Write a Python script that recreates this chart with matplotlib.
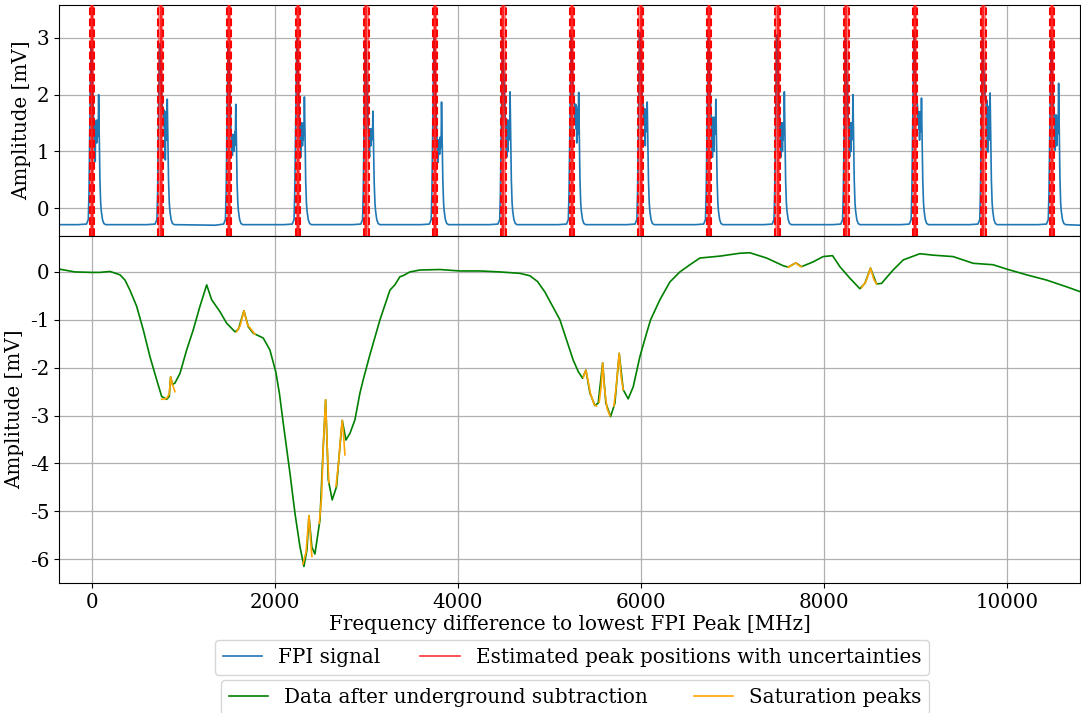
import matplotlib
matplotlib.use("Agg")
import matplotlib.pyplot as plt
from matplotlib.lines import Line2D
import numpy as np

plt.rcParams['font.family'] = 'DejaVu Serif'
plt.rcParams['axes.unicode_minus'] = False
plt.rcParams['font.size'] = 14.3

# --- FPI transmission peaks -------------------------------------------------
fpi_centers = [0, 750, 1499, 2249, 2998, 3748, 4497, 5247, 5996, 6746,
               7495, 8245, 8994, 9744, 10493]
fpi_err = [24, 26, 24, 24, 26, 22, 24, 24, 24, 24, 26, 26, 22, 24, 24]

# sample offsets (MHz) around each FPI peak and the amplitudes read there
fpi_offsets = [-150, -60, -40, -32, -25, -18, -10, 0, 10, 20, 30, 36, 40, 44,
               48, 52, 56, 60, 64, 68, 73, 80, 87, 95, 102, 115, 130, 150]
fpi_rows = [
    [-0.29, -0.28, -0.2, 0.3, 1.2, 2.2, 2.85, 2.6, 2.0, 1.4, 1.0, 0.82, 1.5, 1.2, 1.55, 1.15, 1.5, 1.25, 1.55, 1.3, 2.0, 1.3, 0.5, 0.1, -0.05, -0.2, -0.27, -0.29],
    [-0.29, -0.28, -0.2, 0.3, 1.2, 2.2, 2.9, 2.65, 2.1, 1.8, 1.7, 1.45, 1.73, 1.4, 1.7, 0.85, 1.6, 1.3, 1.5, 1.2, 1.92, 1.25, 0.5, 0.1, -0.05, -0.2, -0.27, -0.29],
    [-0.30, -0.28, -0.2, 0.3, 1.2, 2.2, 2.9, 2.6, 2.0, 1.4, 1.1, 0.93, 1.3, 1.05, 1.29, 1.0, 1.3, 1.1, 1.35, 1.2, 1.83, 1.2, 0.45, 0.1, -0.05, -0.2, -0.27, -0.29],
    [-0.29, -0.28, -0.2, 0.3, 1.2, 2.2, 3.0, 2.7, 2.1, 1.5, 1.1, 0.9, 1.5, 1.2, 1.5, 1.1, 1.45, 1.2, 1.5, 1.3, 1.96, 1.3, 0.5, 0.1, -0.05, -0.2, -0.27, -0.29],
    [-0.29, -0.28, -0.2, 0.3, 1.2, 2.2, 2.95, 2.65, 2.0, 1.5, 1.1, 0.9, 1.4, 1.15, 1.4, 1.1, 1.4, 1.2, 1.4, 1.25, 1.71, 1.1, 0.45, 0.1, -0.05, -0.2, -0.27, -0.29],
    [-0.29, -0.28, -0.2, 0.3, 1.2, 2.2, 3.0, 2.7, 2.0, 1.4, 1.0, 0.81, 1.2, 1.0, 1.2, 0.95, 1.25, 1.05, 1.2, 1.1, 1.87, 1.2, 0.5, 0.1, -0.05, -0.2, -0.27, -0.29],
    [-0.29, -0.28, -0.2, 0.3, 1.2, 2.2, 3.02, 2.7, 2.1, 1.6, 1.2, 0.9, 1.55, 1.25, 1.55, 1.0, 1.5, 1.2, 1.55, 1.3, 2.05, 1.3, 0.5, 0.1, -0.05, -0.2, -0.27, -0.29],
    [-0.29, -0.28, -0.2, 0.3, 1.2, 2.2, 3.05, 2.75, 2.2, 1.9, 1.8, 1.5, 1.83, 1.4, 1.8, 1.15, 1.75, 1.4, 1.7, 1.3, 2.04, 1.3, 0.5, 0.1, -0.05, -0.2, -0.27, -0.29],
    [-0.29, -0.28, -0.2, 0.3, 1.2, 2.2, 3.1, 2.8, 2.2, 1.9, 1.8, 1.5, 1.75, 1.45, 1.75, 1.1, 1.7, 1.4, 1.7, 1.35, 1.87, 1.2, 0.5, 0.1, -0.05, -0.2, -0.27, -0.29],
    [-0.29, -0.28, -0.2, 0.3, 1.2, 2.2, 3.0, 2.7, 2.1, 1.7, 1.4, 0.9, 1.6, 1.3, 1.6, 1.0, 1.55, 1.3, 1.6, 1.3, 1.92, 1.25, 0.5, 0.1, -0.05, -0.2, -0.27, -0.29],
    [-0.29, -0.28, -0.2, 0.3, 1.2, 2.2, 3.05, 2.75, 2.1, 1.6, 1.2, 0.9, 1.5, 1.2, 1.5, 1.0, 1.5, 1.2, 1.5, 1.3, 2.05, 1.3, 0.5, 0.1, -0.05, -0.2, -0.27, -0.29],
    [-0.29, -0.28, -0.2, 0.3, 1.2, 2.2, 3.0, 2.7, 2.1, 1.6, 1.2, 0.9, 1.5, 1.2, 1.5, 1.0, 1.5, 1.2, 1.5, 1.3, 2.0, 1.3, 0.5, 0.1, -0.05, -0.2, -0.27, -0.29],
    [-0.29, -0.28, -0.2, 0.3, 1.2, 2.2, 3.1, 2.8, 2.2, 1.9, 1.8, 1.5, 1.7, 1.4, 1.7, 1.2, 1.65, 1.4, 1.7, 1.35, 1.94, 1.25, 0.5, 0.1, -0.05, -0.2, -0.27, -0.29],
    [-0.29, -0.28, -0.2, 0.3, 1.2, 2.2, 3.0, 2.7, 2.2, 1.9, 1.9, 1.4, 1.9, 1.0, 1.8, 0.99, 1.6, 1.2, 1.5, 1.3, 2.03, 1.3, 0.5, 0.1, -0.05, -0.2, -0.27, -0.29],
    [-0.29, -0.28, -0.2, 0.3, 1.2, 2.2, 3.0, 2.7, 2.1, 1.7, 1.5, 1.02, 1.64, 1.3, 1.64, 1.1, 1.6, 1.3, 1.6, 1.4, 2.2, 1.4, 0.55, 0.1, -0.05, -0.2, -0.27, -0.29],
]
fpi_edges_f = [-360, 10800]
fpi_edges_a = [-0.29, -0.30]

# --- absorption spectrum after background subtraction ----------------------
spec_f = [-361, -186, 0, 87, 197, 306, 361, 415, 489, 561, 634, 707, 762, 816,
          845, 860, 880, 907, 962, 1035, 1107, 1180, 1254, 1308, 1399, 1472,
          1563, 1600, 1661, 1710, 1763, 1872, 1945, 2011, 2050, 2091, 2164,
          2219, 2273, 2317, 2350, 2372, 2404, 2437, 2492, 2528, 2554, 2583,
          2626, 2674, 2710, 2736, 2776, 2820, 2874, 2929, 2965, 3038, 3148,
          3202, 3257, 3311, 3366, 3399, 3475, 3585, 3803, 4022, 4240, 4459,
          4678, 4787, 4870, 4951, 5027, 5115, 5188, 5260, 5315, 5363, 5399,
          5443, 5497, 5533, 5582, 5617, 5669, 5716, 5763, 5807, 5861, 5916,
          5989, 6062, 6106, 6208, 6317, 6426, 6536, 6645, 6863, 7082, 7191,
          7374, 7555, 7610, 7694, 7756, 7883, 7992, 8095, 8175, 8284, 8393,
          8448, 8510, 8576, 8630, 8757, 8867, 9049, 9195, 9413, 9632, 9850,
          9997, 10215, 10434, 10652, 10798]
spec_a = [0.06, 0.0, -0.01, -0.01, 0.01, -0.06, -0.17, -0.38, -0.72, -1.21,
          -1.77, -2.25, -2.6, -2.66, -2.6, -2.19, -2.35, -2.32, -2.12, -1.63,
          -1.21, -0.72, -0.27, -0.58, -0.83, -1.07, -1.25, -1.2, -0.81, -1.15,
          -1.28, -1.38, -1.63, -2.1, -2.55, -3.16, -4.2, -5.04, -5.73, -6.15,
          -5.8, -5.09, -5.75, -5.89, -5.18, -3.65, -2.67, -4.34, -4.76, -4.48,
          -3.65, -3.1, -3.51, -3.37, -3.09, -2.53, -2.25, -1.73, -1.0, -0.69,
          -0.38, -0.27, -0.1, -0.08, 0.0, 0.04, 0.05, 0.02, 0.02, 0.0, -0.03,
          -0.08, -0.2, -0.42, -0.69, -1.0, -1.42, -1.84, -2.08, -2.22, -2.05,
          -2.53, -2.79, -2.74, -1.9, -2.74, -3.02, -2.74, -1.7, -2.46, -2.65,
          -2.4, -1.77, -1.28, -1.0, -0.58, -0.21, 0.0, 0.15, 0.29, 0.33, 0.39,
          0.40, 0.29, 0.13, 0.10, 0.19, 0.11, 0.21, 0.32, 0.34, 0.11, -0.13,
          -0.35, -0.24, 0.08, -0.25, -0.24, 0.04, 0.25, 0.38, 0.35, 0.32, 0.18,
          0.15, 0.06, -0.06, -0.17, -0.31, -0.41]

# --- fitted saturation peaks ------------------------------------------------
sat_f = [
    [762, 816, 845, 860, 880, 907],
    [1581, 1620, 1661, 1700, 1781],
    [2306, 2340, 2372, 2390, 2404],
    [2484, 2510, 2528, 2554, 2570, 2590],
    [2667, 2700, 2720, 2736, 2750, 2765],
    [5370, 5399, 5420, 5450, 5490, 5516],
    [5544, 5565, 5582, 5600, 5630, 5661],
    [5705, 5730, 5763, 5785, 5807],
    [7610, 7650, 7694, 7730, 7756],
    [8412, 8460, 8510, 8545, 8576],
]
sat_a = [
    [-2.66, -2.64, -2.55, -2.19, -2.35, -2.5],
    [-1.25, -1.12, -0.81, -1.1, -1.3],
    [-6.1, -5.85, -5.09, -5.6, -5.94],
    [-5.25, -4.7, -3.65, -2.67, -3.6, -4.4],
    [-4.48, -3.9, -3.4, -3.1, -3.4, -3.82],
    [-2.2, -2.05, -2.25, -2.55, -2.77, -2.8],
    [-2.72, -2.4, -1.9, -2.4, -2.85, -3.0],
    [-2.8, -2.4, -1.7, -2.2, -2.46],
    [0.10, 0.14, 0.19, 0.13, 0.11],
    [-0.33, -0.2, 0.08, -0.15, -0.25],
]

# assemble the FPI trace
fpi_x = [fpi_edges_f[0]]
fpi_y = [fpi_edges_a[0]]
for c, row in zip(fpi_centers, fpi_rows):
    fpi_x.extend(c + o for o in fpi_offsets)
    fpi_y.extend(row)
fpi_x.append(fpi_edges_f[1])
fpi_y.append(fpi_edges_a[1])

fig = plt.figure(figsize=(10.81, 7.13), dpi=100)
ax1 = fig.add_axes([0.0546, 0.669, 0.9445, 0.324])
ax2 = fig.add_axes([0.0546, 0.182, 0.9445, 0.487], sharex=ax1)

ax1.plot(fpi_x, fpi_y, color='tab:blue', lw=1.2, zorder=2)
for c, e in zip(fpi_centers, fpi_err):
    ax1.axvspan(c - e, c + e, color='red', alpha=0.5, lw=0, zorder=3)
    ax1.axvline(c, color='red', alpha=0.7, lw=1.5, zorder=4)
    ax1.axvline(c - e, color='red', ls='--', lw=1.5, zorder=4)
    ax1.axvline(c + e, color='red', ls='--', lw=1.5, zorder=4)

ax1.set_ylim(-0.49, 3.58)
ax1.set_ylabel('Amplitude [mV]')
ax1.grid(True, color='#b0b0b0', lw=0.9)
ax1.tick_params(labelbottom=False)

ax2.plot(spec_f, spec_a, color='green', lw=1.2, zorder=2)
for fs, as_ in zip(sat_f, sat_a):
    ax2.plot(fs, as_, color='orange', lw=1.2, zorder=3)
ax2.set_xlim(-360, 10800)
ax2.set_ylim(-6.5, 0.75)
ax2.set_yticks([0, -1, -2, -3, -4, -5, -6])
ax2.set_ylabel('Amplitude [mV]')
ax2.set_xlabel('Frequency difference to lowest FPI Peak [MHz]', labelpad=2)
ax2.grid(True, color='#b0b0b0', lw=0.9)

leg1 = fig.legend(handles=[Line2D([], [], color='tab:blue', lw=1.2, label='FPI signal'),
                           Line2D([], [], color='red', alpha=0.8, lw=1.2,
                                  label='Estimated peak positions with uncertainties')],
                  loc='upper center', bbox_to_anchor=(0.529, 0.1024), ncol=2,
                  borderaxespad=0)
leg2 = fig.legend(handles=[Line2D([], [], color='green', lw=1.2,
                                  label='Data after underground subtraction'),
                           Line2D([], [], color='orange', lw=1.2, label='Saturation peaks')],
                  loc='upper center', bbox_to_anchor=(0.532, 0.0463), ncol=2,
                  columnspacing=2.3, borderaxespad=0)

fig.savefig('out.png', dpi=100)
